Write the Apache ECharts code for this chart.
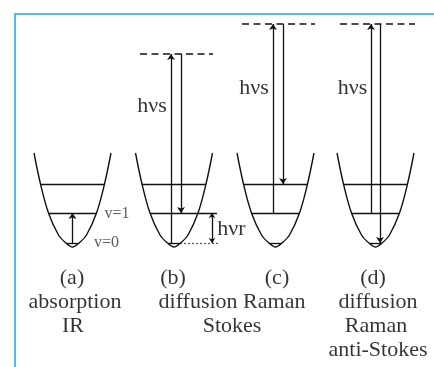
<!DOCTYPE html>
<html><head><meta charset="utf-8">
<script src="https://cdn.jsdelivr.net/npm/echarts@6/dist/echarts.min.js"></script>
<style>html,body{margin:0;padding:0;background:#fff}#c{width:434px;height:367px}</style>
</head><body><div id="c"></div>
<script>
// Panel centres (x units) and potential-well shape (offset, energy)
const panelCenters = [7.25, 17.4, 27.55, 37.55];
const wellDx = [-3.85, -3.2, -2.4, -1.4, -0.65, 0, 0.65, 1.4, 2.4, 3.2, 3.85];
const wellE  = [9.4, 6.3, 3.4, 1.2, 0.4, 0, 0.4, 1.2, 3.4, 6.3, 9.4];
// Vibrational levels v=0, v=1, v=2
const levelE = [0.4, 3.4, 6.3];
const levelHalfWidth = [0.6, 2.4, 3.2];
// Virtual levels (dashed) for panels b, c, d
const virtualE = [19.3, 22.3, 22.3];
const virtualFrom = [14.0, 24.2, 34.0];
const virtualTo = [21.3, 31.5, 41.5];
// Transition arrows
const arrowX    = [7.25, 17.1, 18.1, 27.3, 28.3, 37.1, 38.0];
const arrowFrom = [0.4, 0.4, 19.3, 3.4, 22.3, 3.4, 22.3];
const arrowTo   = [3.4, 19.3, 3.4, 22.3, 6.3, 22.3, 0.4];
// Extra marks in panel b: extended v=1 line, dotted v=0 line, hv_r bracket
const extV1 = [17.4, 21.7, 3.4];
const dottedV0 = [18.0, 21.8, 0.4];
const bracket = [21.2, 0.4, 3.4];
// Labels
const labelText = ['hνs', 'hνs', 'hνs', 'hνr'];
const labelX = [15.2, 25.4, 35.25, 23.15];
const labelY = [14.1, 15.9, 15.9, 1.8];
const levelLabelText = ['v=1', 'v=0'];
const levelLabelX = [11.7, 10.65];
const levelLabelY = [3.3, 0.4];
const captionText = ['(a)', 'absorption', 'IR', '(b)', '(c)', 'diffusion Raman', 'Stokes', '(d)', 'diffusion', 'Raman', 'anti-Stokes'];
const captionX = [7.2, 7.5, 7.3, 17.3, 27.7, 23.2, 23.2, 37.3, 37.8, 37.6, 37.8];
const captionY = [-3.1, -5.5, -7.9, -3.1, -3.1, -5.5, -7.9, -3.1, -5.5, -7.9, -10.3];

const ink = '#111';
const serif = 'Liberation Serif';
const series = [];
panelCenters.forEach(function (c) {
  series.push({
    type: 'line', smooth: 0.35, symbol: 'none', silent: true,
    lineStyle: { color: ink, width: 1.4 },
    data: wellDx.map(function (dx, i) { return [c + dx, wellE[i]]; })
  });
});
const levelData = [];
panelCenters.forEach(function (c, p) {
  levelE.forEach(function (e, i) {
    let x2 = c + levelHalfWidth[i];
    if (p === 1 && i === 1) x2 = extV1[1];
    levelData.push({ coords: [[c - levelHalfWidth[i], e], [x2, e]] });
  });
});
series.push({
  type: 'lines', coordinateSystem: 'cartesian2d', silent: true, symbol: 'none',
  lineStyle: { color: ink, width: 1.3, opacity: 1 }, data: levelData
});
series.push({
  type: 'lines', coordinateSystem: 'cartesian2d', silent: true, symbol: 'none',
  lineStyle: { color: '#555', width: 1.2, opacity: 1, type: [2, 2] },
  data: [{ coords: [[dottedV0[0], dottedV0[2]], [dottedV0[1], dottedV0[2]]] }]
});
series.push({
  type: 'lines', coordinateSystem: 'cartesian2d', silent: true, symbol: 'none',
  lineStyle: { color: ink, width: 1.5, opacity: 1, type: [7, 4.5] },
  data: virtualE.map(function (e, i) { return { coords: [[virtualFrom[i], e], [virtualTo[i], e]] }; })
});
series.push({
  type: 'lines', coordinateSystem: 'cartesian2d', silent: true,
  symbol: ['none', 'arrow'], symbolSize: 6,
  lineStyle: { color: ink, width: 1.3, opacity: 1 },
  data: arrowX.map(function (x, i) { return { coords: [[x, arrowFrom[i]], [x, arrowTo[i]]] }; })
});
series.push({
  type: 'lines', coordinateSystem: 'cartesian2d', silent: true,
  symbol: ['arrow', 'arrow'], symbolSize: 5,
  lineStyle: { color: ink, width: 1.3, opacity: 1 },
  data: [{ coords: [[bracket[0], bracket[1]], [bracket[0], bracket[2]]] }]
});
function textSeries(texts, xs, ys, size, color) {
  return {
    type: 'scatter', symbolSize: 0, silent: true,
    data: texts.map(function (t, i) { return { value: [xs[i], ys[i]], name: t }; }),
    label: {
      show: true, position: 'inside', color: color, fontFamily: serif,
      fontSize: size, formatter: function (p) { return p.name; }
    },
    labelLayout: { hideOverlap: false }
  };
}
series.push(textSeries(labelText, labelX, labelY, 22, '#000'));
series.push(textSeries(levelLabelText, levelLabelX, levelLabelY, 16, '#333'));
series.push(textSeries(captionText, captionX, captionY, 22, '#000'));

const chart = echarts.init(document.getElementById('c'), null, { renderer: 'canvas' });
chart.setOption({
  animation: false,
  backgroundColor: '#fff',
  grid: { left: 0, top: 0, width: 434, height: 367 },
  xAxis: { type: 'value', min: 0, max: 43.4, show: false },
  yAxis: { type: 'value', min: -12, max: 24.7, show: false },
  graphic: [{
    type: 'rect', silent: true,
    shape: { x: 15, y: 14, width: 600, height: 600 },
    style: { fill: 'none', stroke: '#55bbe8', lineWidth: 2 }
  }],
  series: series
});
</script></body></html>
